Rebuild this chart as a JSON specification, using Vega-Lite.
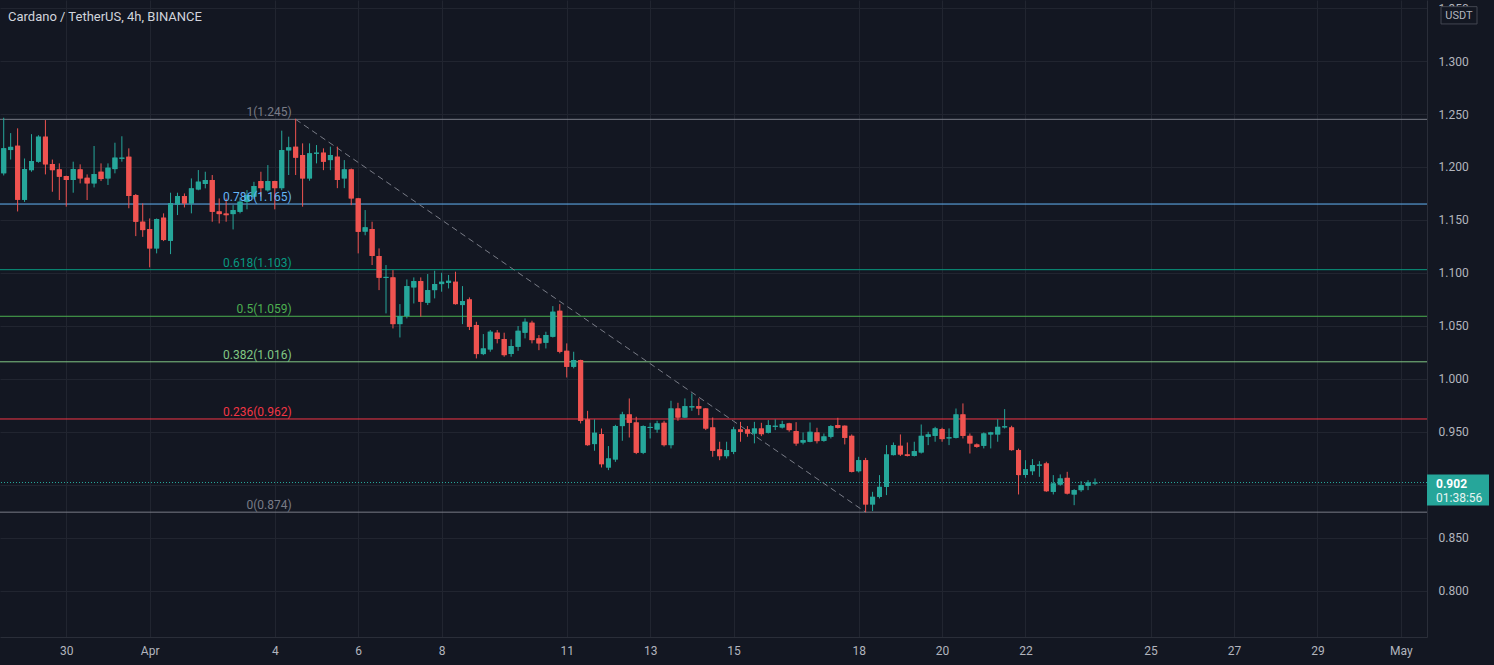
{
"$schema": "https://vega.github.io/schema/vega-lite/v6.json",
"width": 1427, "height": 637,
"autosize": {"type": "none"},
"padding": {"left": 0, "top": 0, "right": 67, "bottom": 28},
"background": "#131722",
"config": {"view": {"stroke": null}, "font": "Roboto",
 "axis": {"grid": true, "gridColor": "#212530", "ticks": false, "domain": true, "domainColor": "#2a2e39", "labelColor": "#b2b5be", "labelFontSize": 12, "labelFont": "Roboto", "labelOverlap": false, "labelFlush": false, "labelBound": false}},
"title": {"text": "Cardano / TetherUS, 4h, BINANCE", "anchor": "start", "frame": "group", "orient": "top", "offset": -21, "baseline": "alphabetic", "fontSize": 13, "fontWeight": "normal", "color": "#d1d4dc", "dx": 8, "dy": 13, "font": "Roboto"},
"datasets": {
"candles": [
{"t":"2021-03-28T12:00:00Z","o":1.194,"h":1.2465,"l":1.192,"c":1.2176},
{"t":"2021-03-28T16:00:00Z","o":1.216,"h":1.232,"l":1.207,"c":1.219},
{"t":"2021-03-28T20:00:00Z","o":1.220,"h":1.2365,"l":1.158,"c":1.169},
{"t":"2021-03-29T00:00:00Z","o":1.169,"h":1.208,"l":1.167,"c":1.198},
{"t":"2021-03-29T04:00:00Z","o":1.197,"h":1.231,"l":1.1955,"c":1.2056},
{"t":"2021-03-29T08:00:00Z","o":1.205,"h":1.230,"l":1.204,"c":1.2286},
{"t":"2021-03-29T12:00:00Z","o":1.2286,"h":1.2443,"l":1.193,"c":1.2025},
{"t":"2021-03-29T16:00:00Z","o":1.2028,"h":1.207,"l":1.1766,"c":1.197},
{"t":"2021-03-29T20:00:00Z","o":1.1977,"h":1.2034,"l":1.1688,"c":1.1908},
{"t":"2021-03-30T00:00:00Z","o":1.1914,"h":1.1918,"l":1.1625,"c":1.1877},
{"t":"2021-03-30T04:00:00Z","o":1.1877,"h":1.205,"l":1.1757,"c":1.198},
{"t":"2021-03-30T08:00:00Z","o":1.1977,"h":1.2025,"l":1.1845,"c":1.1892},
{"t":"2021-03-30T12:00:00Z","o":1.1898,"h":1.193,"l":1.1688,"c":1.1845},
{"t":"2021-03-30T16:00:00Z","o":1.1845,"h":1.2198,"l":1.1807,"c":1.1933},
{"t":"2021-03-30T20:00:00Z","o":1.1955,"h":1.2034,"l":1.1867,"c":1.1886},
{"t":"2021-03-31T00:00:00Z","o":1.1892,"h":1.2034,"l":1.183,"c":1.1993},
{"t":"2021-03-31T04:00:00Z","o":1.198,"h":1.2229,"l":1.194,"c":1.2088},
{"t":"2021-03-31T08:00:00Z","o":1.2078,"h":1.229,"l":1.205,"c":1.2088},
{"t":"2021-03-31T12:00:00Z","o":1.2097,"h":1.2176,"l":1.161,"c":1.1725},
{"t":"2021-03-31T16:00:00Z","o":1.1735,"h":1.1745,"l":1.1347,"c":1.1483},
{"t":"2021-03-31T20:00:00Z","o":1.1483,"h":1.1656,"l":1.134,"c":1.1404},
{"t":"2021-04-01T00:00:00Z","o":1.1414,"h":1.1514,"l":1.1052,"c":1.1231},
{"t":"2021-04-01T04:00:00Z","o":1.1231,"h":1.1514,"l":1.1184,"c":1.1508},
{"t":"2021-04-01T08:00:00Z","o":1.1521,"h":1.1562,"l":1.130,"c":1.131},
{"t":"2021-04-01T12:00:00Z","o":1.1303,"h":1.1757,"l":1.1177,"c":1.1656},
{"t":"2021-04-01T16:00:00Z","o":1.1647,"h":1.1757,"l":1.1546,"c":1.1725},
{"t":"2021-04-01T20:00:00Z","o":1.1725,"h":1.175,"l":1.1618,"c":1.1656},
{"t":"2021-04-02T00:00:00Z","o":1.1656,"h":1.1892,"l":1.1562,"c":1.1798},
{"t":"2021-04-02T04:00:00Z","o":1.1788,"h":1.1971,"l":1.178,"c":1.1861},
{"t":"2021-04-02T08:00:00Z","o":1.184,"h":1.1955,"l":1.1798,"c":1.1877},
{"t":"2021-04-02T12:00:00Z","o":1.1877,"h":1.1924,"l":1.1483,"c":1.1577},
{"t":"2021-04-02T16:00:00Z","o":1.158,"h":1.1703,"l":1.1467,"c":1.1555},
{"t":"2021-04-02T20:00:00Z","o":1.156,"h":1.1703,"l":1.1483,"c":1.1545},
{"t":"2021-04-03T00:00:00Z","o":1.1555,"h":1.164,"l":1.141,"c":1.1593},
{"t":"2021-04-03T04:00:00Z","o":1.1577,"h":1.1713,"l":1.1562,"c":1.1672},
{"t":"2021-04-03T08:00:00Z","o":1.167,"h":1.1782,"l":1.16,"c":1.1735},
{"t":"2021-04-03T12:00:00Z","o":1.172,"h":1.186,"l":1.170,"c":1.182},
{"t":"2021-04-03T16:00:00Z","o":1.1867,"h":1.1955,"l":1.172,"c":1.180},
{"t":"2021-04-03T20:00:00Z","o":1.178,"h":1.2018,"l":1.1767,"c":1.1867},
{"t":"2021-04-04T00:00:00Z","o":1.1867,"h":1.187,"l":1.160,"c":1.180},
{"t":"2021-04-04T04:00:00Z","o":1.180,"h":1.2343,"l":1.178,"c":1.216},
{"t":"2021-04-04T08:00:00Z","o":1.2157,"h":1.2286,"l":1.1924,"c":1.2185},
{"t":"2021-04-04T12:00:00Z","o":1.2191,"h":1.2455,"l":1.1924,"c":1.2088},
{"t":"2021-04-04T16:00:00Z","o":1.2113,"h":1.2223,"l":1.1625,"c":1.1892},
{"t":"2021-04-04T20:00:00Z","o":1.1892,"h":1.2223,"l":1.187,"c":1.2129},
{"t":"2021-04-05T00:00:00Z","o":1.2125,"h":1.2207,"l":1.2034,"c":1.2135},
{"t":"2021-04-05T04:00:00Z","o":1.2135,"h":1.2176,"l":1.197,"c":1.205},
{"t":"2021-04-05T08:00:00Z","o":1.2065,"h":1.2192,"l":1.197,"c":1.2113},
{"t":"2021-04-05T12:00:00Z","o":1.2097,"h":1.2192,"l":1.180,"c":1.1877},
{"t":"2021-04-05T16:00:00Z","o":1.1892,"h":1.2065,"l":1.180,"c":1.1977},
{"t":"2021-04-05T20:00:00Z","o":1.1977,"h":1.1985,"l":1.164,"c":1.1703},
{"t":"2021-04-06T00:00:00Z","o":1.1703,"h":1.1708,"l":1.1184,"c":1.1388},
{"t":"2021-04-06T04:00:00Z","o":1.139,"h":1.1593,"l":1.1355,"c":1.143},
{"t":"2021-04-06T08:00:00Z","o":1.1414,"h":1.1483,"l":1.1074,"c":1.116},
{"t":"2021-04-06T12:00:00Z","o":1.1159,"h":1.1231,"l":1.0837,"c":1.0954},
{"t":"2021-04-06T16:00:00Z","o":1.0952,"h":1.1074,"l":1.0617,"c":1.0962},
{"t":"2021-04-06T20:00:00Z","o":1.0957,"h":1.1026,"l":1.0475,"c":1.0516},
{"t":"2021-04-07T00:00:00Z","o":1.0516,"h":1.0705,"l":1.039,"c":1.0592},
{"t":"2021-04-07T04:00:00Z","o":1.0592,"h":1.0938,"l":1.057,"c":1.0875},
{"t":"2021-04-07T08:00:00Z","o":1.0863,"h":1.0957,"l":1.0711,"c":1.0922},
{"t":"2021-04-07T12:00:00Z","o":1.0922,"h":1.0957,"l":1.0586,"c":1.0727},
{"t":"2021-04-07T16:00:00Z","o":1.0718,"h":1.0989,"l":1.0696,"c":1.0837},
{"t":"2021-04-07T20:00:00Z","o":1.0837,"h":1.102,"l":1.0759,"c":1.0894},
{"t":"2021-04-08T00:00:00Z","o":1.0894,"h":1.1001,"l":1.0822,"c":1.0916},
{"t":"2021-04-08T04:00:00Z","o":1.0906,"h":1.098,"l":1.0853,"c":1.0925},
{"t":"2021-04-08T08:00:00Z","o":1.0916,"h":1.1011,"l":1.070,"c":1.0705},
{"t":"2021-04-08T12:00:00Z","o":1.0696,"h":1.0875,"l":1.0516,"c":1.0733},
{"t":"2021-04-08T16:00:00Z","o":1.0749,"h":1.0768,"l":1.046,"c":1.0491},
{"t":"2021-04-08T20:00:00Z","o":1.0507,"h":1.0538,"l":1.0192,"c":1.0233},
{"t":"2021-04-09T00:00:00Z","o":1.0233,"h":1.0422,"l":1.0223,"c":1.0286},
{"t":"2021-04-09T04:00:00Z","o":1.0277,"h":1.046,"l":1.0255,"c":1.0444},
{"t":"2021-04-09T08:00:00Z","o":1.0435,"h":1.046,"l":1.0334,"c":1.0375},
{"t":"2021-04-09T12:00:00Z","o":1.0375,"h":1.0435,"l":1.0208,"c":1.0223},
{"t":"2021-04-09T16:00:00Z","o":1.0233,"h":1.0372,"l":1.0208,"c":1.0309},
{"t":"2021-04-09T20:00:00Z","o":1.0302,"h":1.0498,"l":1.0264,"c":1.0453},
{"t":"2021-04-10T00:00:00Z","o":1.0435,"h":1.057,"l":1.0381,"c":1.0538},
{"t":"2021-04-10T04:00:00Z","o":1.0529,"h":1.0548,"l":1.0334,"c":1.0365},
{"t":"2021-04-10T08:00:00Z","o":1.0381,"h":1.0413,"l":1.027,"c":1.0334},
{"t":"2021-04-10T12:00:00Z","o":1.034,"h":1.0444,"l":1.0286,"c":1.0413},
{"t":"2021-04-10T16:00:00Z","o":1.0397,"h":1.0686,"l":1.039,"c":1.0633},
{"t":"2021-04-10T20:00:00Z","o":1.0642,"h":1.0705,"l":1.024,"c":1.0255},
{"t":"2021-04-11T00:00:00Z","o":1.0264,"h":1.0334,"l":1.0012,"c":1.0113},
{"t":"2021-04-11T04:00:00Z","o":1.0113,"h":1.0255,"l":1.0098,"c":1.0176},
{"t":"2021-04-11T08:00:00Z","o":1.0176,"h":1.018,"l":0.9578,"c":0.9603},
{"t":"2021-04-11T12:00:00Z","o":0.9616,"h":0.9697,"l":0.9367,"c":0.9373},
{"t":"2021-04-11T16:00:00Z","o":0.9383,"h":0.9616,"l":0.932,"c":0.949},
{"t":"2021-04-11T20:00:00Z","o":0.9477,"h":0.953,"l":0.9162,"c":0.9193},
{"t":"2021-04-12T00:00:00Z","o":0.9162,"h":0.9364,"l":0.9137,"c":0.9247},
{"t":"2021-04-12T04:00:00Z","o":0.9238,"h":0.9565,"l":0.9215,"c":0.9553},
{"t":"2021-04-12T08:00:00Z","o":0.9553,"h":0.9688,"l":0.9414,"c":0.9663},
{"t":"2021-04-12T12:00:00Z","o":0.9663,"h":0.9814,"l":0.9445,"c":0.9584},
{"t":"2021-04-12T16:00:00Z","o":0.9587,"h":0.9641,"l":0.9288,"c":0.9301},
{"t":"2021-04-12T20:00:00Z","o":0.9301,"h":0.956,"l":0.9288,"c":0.9553},
{"t":"2021-04-13T00:00:00Z","o":0.9535,"h":0.9584,"l":0.9436,"c":0.9545},
{"t":"2021-04-13T04:00:00Z","o":0.9521,"h":0.9603,"l":0.949,"c":0.9578},
{"t":"2021-04-13T08:00:00Z","o":0.9584,"h":0.9603,"l":0.936,"c":0.9373},
{"t":"2021-04-13T12:00:00Z","o":0.9373,"h":0.9792,"l":0.9342,"c":0.9719},
{"t":"2021-04-13T16:00:00Z","o":0.9719,"h":0.9773,"l":0.9603,"c":0.9634},
{"t":"2021-04-13T20:00:00Z","o":0.9634,"h":0.9814,"l":0.963,"c":0.9741},
{"t":"2021-04-14T00:00:00Z","o":0.9730,"h":0.9861,"l":0.9697,"c":0.9740},
{"t":"2021-04-14T04:00:00Z","o":0.9741,"h":0.9814,"l":0.9656,"c":0.9719},
{"t":"2021-04-14T08:00:00Z","o":0.9719,"h":0.9723,"l":0.9515,"c":0.953},
{"t":"2021-04-14T12:00:00Z","o":0.954,"h":0.9634,"l":0.9263,"c":0.932},
{"t":"2021-04-14T16:00:00Z","o":0.9332,"h":0.9405,"l":0.9231,"c":0.9269},
{"t":"2021-04-14T20:00:00Z","o":0.9269,"h":0.9405,"l":0.9247,"c":0.9326},
{"t":"2021-04-15T00:00:00Z","o":0.931,"h":0.9546,"l":0.9288,"c":0.9521},
{"t":"2021-04-15T04:00:00Z","o":0.9521,"h":0.9593,"l":0.9405,"c":0.9499},
{"t":"2021-04-15T08:00:00Z","o":0.9521,"h":0.9553,"l":0.9452,"c":0.9483},
{"t":"2021-04-15T12:00:00Z","o":0.9483,"h":0.9593,"l":0.939,"c":0.953},
{"t":"2021-04-15T16:00:00Z","o":0.953,"h":0.9584,"l":0.9458,"c":0.9477},
{"t":"2021-04-15T20:00:00Z","o":0.949,"h":0.9609,"l":0.9483,"c":0.9562},
{"t":"2021-04-16T00:00:00Z","o":0.9546,"h":0.9616,"l":0.9515,"c":0.9556},
{"t":"2021-04-16T04:00:00Z","o":0.954,"h":0.9603,"l":0.953,"c":0.9571},
{"t":"2021-04-16T08:00:00Z","o":0.9578,"h":0.9584,"l":0.950,"c":0.9515},
{"t":"2021-04-16T12:00:00Z","o":0.9505,"h":0.959,"l":0.9367,"c":0.9389},
{"t":"2021-04-16T16:00:00Z","o":0.9398,"h":0.9493,"l":0.938,"c":0.942},
{"t":"2021-04-16T20:00:00Z","o":0.9405,"h":0.9587,"l":0.940,"c":0.9499},
{"t":"2021-04-17T00:00:00Z","o":0.9493,"h":0.9537,"l":0.9389,"c":0.9411},
{"t":"2021-04-17T04:00:00Z","o":0.9414,"h":0.9483,"l":0.9405,"c":0.9455},
{"t":"2021-04-17T08:00:00Z","o":0.9452,"h":0.9562,"l":0.9436,"c":0.9553},
{"t":"2021-04-17T12:00:00Z","o":0.9562,"h":0.9631,"l":0.953,"c":0.9537},
{"t":"2021-04-17T16:00:00Z","o":0.9556,"h":0.9559,"l":0.938,"c":0.9442},
{"t":"2021-04-17T20:00:00Z","o":0.9461,"h":0.9474,"l":0.9115,"c":0.9121},
{"t":"2021-04-18T00:00:00Z","o":0.9127,"h":0.9263,"l":0.9115,"c":0.9231},
{"t":"2021-04-18T04:00:00Z","o":0.9231,"h":0.9253,"l":0.874,"c":0.8813},
{"t":"2021-04-18T08:00:00Z","o":0.8813,"h":0.8932,"l":0.875,"c":0.8885},
{"t":"2021-04-18T12:00:00Z","o":0.8885,"h":0.909,"l":0.887,"c":0.8979},
{"t":"2021-04-18T16:00:00Z","o":0.8979,"h":0.9373,"l":0.8901,"c":0.9285},
{"t":"2021-04-18T20:00:00Z","o":0.9279,"h":0.9398,"l":0.9275,"c":0.9373},
{"t":"2021-04-19T00:00:00Z","o":0.9367,"h":0.9474,"l":0.927,"c":0.9285},
{"t":"2021-04-19T04:00:00Z","o":0.9285,"h":0.9398,"l":0.9266,"c":0.9272},
{"t":"2021-04-19T08:00:00Z","o":0.9272,"h":0.9405,"l":0.9266,"c":0.9316},
{"t":"2021-04-19T12:00:00Z","o":0.9304,"h":0.9568,"l":0.9294,"c":0.9461},
{"t":"2021-04-19T16:00:00Z","o":0.9452,"h":0.9499,"l":0.9373,"c":0.9474},
{"t":"2021-04-19T20:00:00Z","o":0.9461,"h":0.9546,"l":0.9405,"c":0.9531},
{"t":"2021-04-20T00:00:00Z","o":0.9524,"h":0.9537,"l":0.9405,"c":0.943},
{"t":"2021-04-20T04:00:00Z","o":0.9437,"h":0.9531,"l":0.9373,"c":0.9447},
{"t":"2021-04-20T08:00:00Z","o":0.9442,"h":0.9719,"l":0.9436,"c":0.9663},
{"t":"2021-04-20T12:00:00Z","o":0.9663,"h":0.9767,"l":0.9436,"c":0.9461},
{"t":"2021-04-20T16:00:00Z","o":0.9461,"h":0.9483,"l":0.9294,"c":0.9389},
{"t":"2021-04-20T20:00:00Z","o":0.9379,"h":0.9389,"l":0.9348,"c":0.9357},
{"t":"2021-04-21T00:00:00Z","o":0.9367,"h":0.9493,"l":0.9342,"c":0.9483},
{"t":"2021-04-21T04:00:00Z","o":0.9474,"h":0.9499,"l":0.9342,"c":0.9493},
{"t":"2021-04-21T08:00:00Z","o":0.9474,"h":0.9618,"l":0.9405,"c":0.9546},
{"t":"2021-04-21T12:00:00Z","o":0.9541,"h":0.9713,"l":0.953,"c":0.9551},
{"t":"2021-04-21T16:00:00Z","o":0.954,"h":0.9556,"l":0.932,"c":0.9326},
{"t":"2021-04-21T20:00:00Z","o":0.9326,"h":0.934,"l":0.8907,"c":0.909},
{"t":"2021-04-22T00:00:00Z","o":0.909,"h":0.9231,"l":0.9065,"c":0.9146},
{"t":"2021-04-22T04:00:00Z","o":0.9127,"h":0.9241,"l":0.909,"c":0.9184},
{"t":"2021-04-22T08:00:00Z","o":0.9179,"h":0.9222,"l":0.9074,"c":0.9189},
{"t":"2021-04-22T12:00:00Z","o":0.92,"h":0.9216,"l":0.8932,"c":0.8938},
{"t":"2021-04-22T16:00:00Z","o":0.8932,"h":0.909,"l":0.8907,"c":0.9011},
{"t":"2021-04-22T20:00:00Z","o":0.9001,"h":0.9096,"l":0.8989,"c":0.9058},
{"t":"2021-04-23T00:00:00Z","o":0.9064,"h":0.9121,"l":0.8907,"c":0.8916},
{"t":"2021-04-23T04:00:00Z","o":0.8907,"h":0.8957,"l":0.8806,"c":0.8948},
{"t":"2021-04-23T08:00:00Z","o":0.8948,"h":0.9033,"l":0.8932,"c":0.8995},
{"t":"2021-04-23T12:00:00Z","o":0.8989,"h":0.9042,"l":0.8948,"c":0.902},
{"t":"2021-04-23T16:00:00Z","o":0.9011,"h":0.9058,"l":0.8995,"c":0.902}
],
"fibs": [
{"t":"2021-04-04T12:00:00Z","v":1.245,"lab":"1(1.245)","col":"#787b86"},
{"t":"2021-04-04T12:00:00Z","v":1.165,"lab":"0.786(1.165)","col":"#64b5f6"},
{"t":"2021-04-04T12:00:00Z","v":1.103,"lab":"0.618(1.103)","col":"#089981"},
{"t":"2021-04-04T12:00:00Z","v":1.059,"lab":"0.5(1.059)","col":"#4caf50"},
{"t":"2021-04-04T12:00:00Z","v":1.016,"lab":"0.382(1.016)","col":"#81c784"},
{"t":"2021-04-04T12:00:00Z","v":0.962,"lab":"0.236(0.962)","col":"#f23645"},
{"t":"2021-04-04T12:00:00Z","v":0.874,"lab":"0(0.874)","col":"#787b86"}
],
"trend": [
{"t":"2021-04-04T12:00:00Z","v":1.245},
{"t":"2021-04-18T04:00:00Z","v":0.874}
],
"last": [{"c":0.902,"cd":"01:38:56","unit":"USDT","top":1.35}]
},
"layer": [
{"data":{"name":"candles"},"mark":{"type":"bar","width":5},
 "encoding":{"x":{"field":"t","type":"temporal","title":null,"scale":{"type":"utc","nice":false,"domain":[{"year":2021,"month":3,"date":28,"hours":12,"minutes":44,"seconds":35,"utc":true},{"year":2021,"month":5,"date":1,"hours":12,"minutes":10,"seconds":17,"utc":true}]},
   "axis":{"title":null,"labelPadding":8,
    "values":[{"year":2021,"month":3,"date":30,"utc":true},{"year":2021,"month":4,"date":1,"utc":true},{"year":2021,"month":4,"date":4,"utc":true},{"year":2021,"month":4,"date":6,"utc":true},{"year":2021,"month":4,"date":8,"utc":true},{"year":2021,"month":4,"date":11,"utc":true},{"year":2021,"month":4,"date":13,"utc":true},{"year":2021,"month":4,"date":15,"utc":true},{"year":2021,"month":4,"date":18,"utc":true},{"year":2021,"month":4,"date":20,"utc":true},{"year":2021,"month":4,"date":22,"utc":true},{"year":2021,"month":4,"date":25,"utc":true},{"year":2021,"month":4,"date":27,"utc":true},{"year":2021,"month":4,"date":29,"utc":true},{"year":2021,"month":5,"date":1,"utc":true}],
    "labelExpr":"utcdate(datum.value) == 1 ? utcFormat(datum.value, '%b') : utcFormat(datum.value, '%-d')"}},
  "y":{"field":"o","type":"quantitative","title":null,"scale":{"domain":[0.7561,1.3577],"zero":false,"nice":false},
   "axis":{"title":null,"orient":"right","labelPadding":11,"format":".3f",
    "values":[0.8,0.85,0.9,0.95,1.0,1.05,1.1,1.15,1.2,1.25,1.3,1.35]}},
  "y2":{"field":"c"},
  "color":{"condition":{"test":"datum.c >= datum.o","value":"#26a69a"},"value":"#ef5350"}}},
{"data":{"name":"fibs"},"mark":{"type":"rule","strokeWidth":1},
 "encoding":{"y":{"field":"v","type":"quantitative","title":null},
  "color":{"field":"col","type":"nominal","scale":null,"legend":null}}},
{"data":{"name":"last"},"mark":{"type":"rule","strokeWidth":1,"strokeDash":[1,2],"color":"#26a69a"},
 "encoding":{"y":{"field":"c","type":"quantitative","title":null}}},
{"data":{"name":"trend"},"mark":{"type":"line","strokeWidth":1,"strokeDash":[6,4],"color":"#787b86"},
 "encoding":{"x":{"field":"t","type":"temporal","title":null},
  "y":{"field":"v","type":"quantitative","title":null}}},
{"data":{"name":"candles"},"mark":{"type":"rule","strokeWidth":1},
 "encoding":{"x":{"field":"t","type":"temporal","title":null},
  "y":{"field":"l","type":"quantitative","title":null},
  "y2":{"field":"h"},
  "color":{"condition":{"test":"datum.c >= datum.o","value":"#26a69a"},"value":"#ef5350"}}},
{"data":{"name":"candles"},"mark":{"type":"bar","width":5},
 "encoding":{"x":{"field":"t","type":"temporal","title":null},
  "y":{"field":"o","type":"quantitative","title":null},
  "y2":{"field":"c"},
  "color":{"condition":{"test":"datum.c >= datum.o","value":"#26a69a"},"value":"#ef5350"}}},
{"data":{"name":"fibs"},"mark":{"type":"text","align":"right","baseline":"alphabetic","dx":-4,"dy":-3,"fontSize":12},
 "encoding":{"x":{"field":"t","type":"temporal","title":null},
  "y":{"field":"v","type":"quantitative","title":null},
  "text":{"field":"lab"},
  "color":{"field":"col","type":"nominal","scale":null,"legend":null}}},
{"data":{"name":"last"},"mark":{"type":"point","shape":"M0,-0.8H6.2V2.3H0Z","size":400,"filled":true,"color":"#26a69a","opacity":1,"strokeWidth":0},
 "encoding":{"x":{"value":"width"},"y":{"field":"c","type":"quantitative","title":null}}},
{"data":{"name":"last"},"mark":{"type":"text","align":"left","baseline":"middle","dx":9,"dy":1.5,"fontSize":12,"fontWeight":"bold","color":"#ffffff"},
 "encoding":{"x":{"value":"width"},"y":{"field":"c","type":"quantitative","title":null},"text":{"field":"c","format":".3f"}}},
{"data":{"name":"last"},"mark":{"type":"text","align":"left","baseline":"middle","dx":9,"dy":15,"fontSize":12,"color":"#e6f4f2"},
 "encoding":{"x":{"value":"width"},"y":{"field":"c","type":"quantitative","title":null},"text":{"field":"cd"}}},
{"data":{"name":"last"},"mark":{"type":"point","shape":"M1.4,-0.15H5V1.58H1.4Z","size":400,"filled":false,"fill":"#131722","fillOpacity":1,"stroke":"#434651","strokeWidth":1,"opacity":1},
 "encoding":{"x":{"value":"width"},"y":{"field":"top","type":"quantitative","title":null}}},
{"data":{"name":"last"},"mark":{"type":"text","align":"center","baseline":"middle","dx":32,"dy":7.5,"fontSize":11,"color":"#b2b5be"},
 "encoding":{"x":{"value":"width"},"y":{"field":"top","type":"quantitative","title":null},"text":{"field":"unit"}}}
]
}
